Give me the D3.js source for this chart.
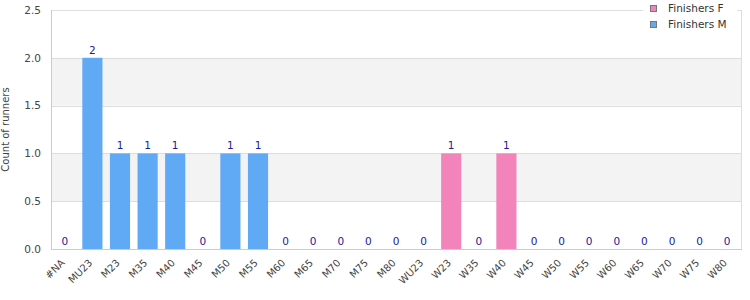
<!DOCTYPE html>
<html>
<meta charset="utf-8">
<title>Runners by category</title>
<script src="https://d3js.org/d3.v7.min.js"></script>
<style>
  body { margin: 0; background: #fff; }
  svg { font-family: "DejaVu Sans", sans-serif; }
</style>
<body>
<svg id="chart" width="750" height="300"></svg>
<script>
// categories and counts per category
var categories = ["#NA", "MU23", "M23", "M35", "M40", "M45", "M50", "M55", "M60", "M65", "M70", "M75", "M80",
  "WU23", "W23", "W35", "W40", "W45", "W50", "W55", "W60", "W65", "W70", "W75", "W80"];
var finishersM = [0, 2, 1, 1, 1, 0, 1, 1, 0, 0, 0, 0, 0, 0, 0, 0, 0, 0, 0, 0, 0, 0, 0, 0, 0];
var finishersF = [0, 0, 0, 0, 0, 0, 0, 0, 0, 0, 0, 0, 0, 0, 1, 0, 1, 0, 0, 0, 0, 0, 0, 0, 0];
var yTicks = [0, 0.5, 1.0, 1.5, 2.0, 2.5];
var seriesNames = ["Finishers F", "Finishers M"];
var seriesColors = { "Finishers F": "#f283bb", "Finishers M": "#60a9f5" };

var svg = d3.select("#chart");
var plotLeft = 51, plotRight = 741, plotTop = 10, plotBottom = 249;

var x = d3.scaleBand().domain(categories).range([plotLeft, plotRight]).paddingInner(0.27).paddingOuter(0.135);
var y = d3.scaleLinear().domain([0, 2.5]).range([plotBottom, plotTop]);

// alternating bands
for (var i = 0; i < yTicks.length - 1; i++) {
  if (i % 2 == 1) {
    svg.append("rect")
      .attr("x", plotLeft).attr("width", plotRight - plotLeft)
      .attr("y", y(yTicks[i + 1])).attr("height", y(yTicks[i]) - y(yTicks[i + 1]))
      .attr("fill", "#f3f3f3");
  }
}

// grid lines
svg.selectAll(".grid").data(yTicks).enter().append("line")
  .attr("x1", plotLeft).attr("x2", plotRight)
  .attr("y1", function(d){ return Math.round(y(d)) + 0.5; }).attr("y2", function(d){ return Math.round(y(d)) + 0.5; })
  .attr("stroke", "#dddddd");

// plot border
svg.append("line").attr("x1", plotLeft + 0.5).attr("x2", plotLeft + 0.5).attr("y1", plotTop).attr("y2", plotBottom + 1).attr("stroke", "#cccccc");
svg.append("line").attr("x1", plotRight + 0.5).attr("x2", plotRight + 0.5).attr("y1", plotTop).attr("y2", plotBottom + 1).attr("stroke", "#dddddd");
svg.append("line").attr("x1", plotLeft).attr("x2", plotRight + 1).attr("y1", plotBottom + 0.5).attr("y2", plotBottom + 0.5).attr("stroke", "#cccccc");

// bars
var rows = categories.map(function(c, i){
  var isF = finishersF[i] > 0;
  return { cat: c, value: isF ? finishersF[i] : finishersM[i], series: isF ? "Finishers F" : "Finishers M" };
});

svg.selectAll(".bar").data(rows.filter(function(d){ return d.value > 0; })).enter().append("rect")
  .attr("x", function(d){ return x(d.cat); })
  .attr("width", x.bandwidth())
  .attr("y", function(d){ return y(d.value); })
  .attr("height", function(d){ return y(0) - y(d.value); })
  .attr("fill", function(d){ return seriesColors[d.series]; });

// value labels
svg.selectAll(".val").data(rows).enter().append("text")
  .attr("x", function(d){ return x(d.cat) + x.bandwidth() / 2; })
  .attr("y", function(d){ return y(d.value) - 4; })
  .attr("text-anchor", "middle")
  .attr("font-size", "10.5px")
  .attr("fill", "#1a1a99")
  .text(function(d){ return d.value; });

// y axis
var yAxis = d3.axisLeft(y).tickValues(yTicks).tickFormat(d3.format(".1f")).tickSize(0).tickPadding(10);
var gy = svg.append("g").attr("transform", "translate(" + plotLeft + ",0)").call(yAxis);
gy.select(".domain").remove();
gy.selectAll("text").attr("font-size", "10.5px").attr("fill", "#444").attr("font-family", "DejaVu Sans, sans-serif");

// x axis
var xAxis = d3.axisBottom(x).tickSize(0);
var gx = svg.append("g").attr("transform", "translate(0," + plotBottom + ")").call(xAxis);
gx.select(".domain").remove();
gx.selectAll("text")
  .attr("font-size", "10px").attr("fill", "#444").attr("font-family", "DejaVu Sans, sans-serif")
  .attr("text-anchor", "end")
  .attr("y", 0)
  .attr("dy", "0.35em")
  .attr("transform", "translate(-2,12) rotate(-45)");

// y label
svg.append("text")
  .attr("transform", "translate(9," + ((plotTop + plotBottom) / 2) + ") rotate(-90)")
  .attr("text-anchor", "middle")
  .attr("font-size", "10px")
  .attr("fill", "#444")
  .text("Count of runners");

// legend
var legend = svg.append("g");
legend.append("rect").attr("x", 643).attr("y", 0).attr("width", 94).attr("height", 34).attr("fill", "#fff");
seriesNames.forEach(function(name, i){
  legend.append("rect")
    .attr("x", 650.5).attr("y", 5.5 + i * 16).attr("width", 6).attr("height", 6)
    .attr("fill", seriesColors[name]).attr("stroke", "#777");
  legend.append("text")
    .attr("x", 668).attr("y", 12 + i * 16)
    .attr("font-size", "10.5px").attr("fill", "#333")
    .text(name);
});
</script>
</body>
</html>
